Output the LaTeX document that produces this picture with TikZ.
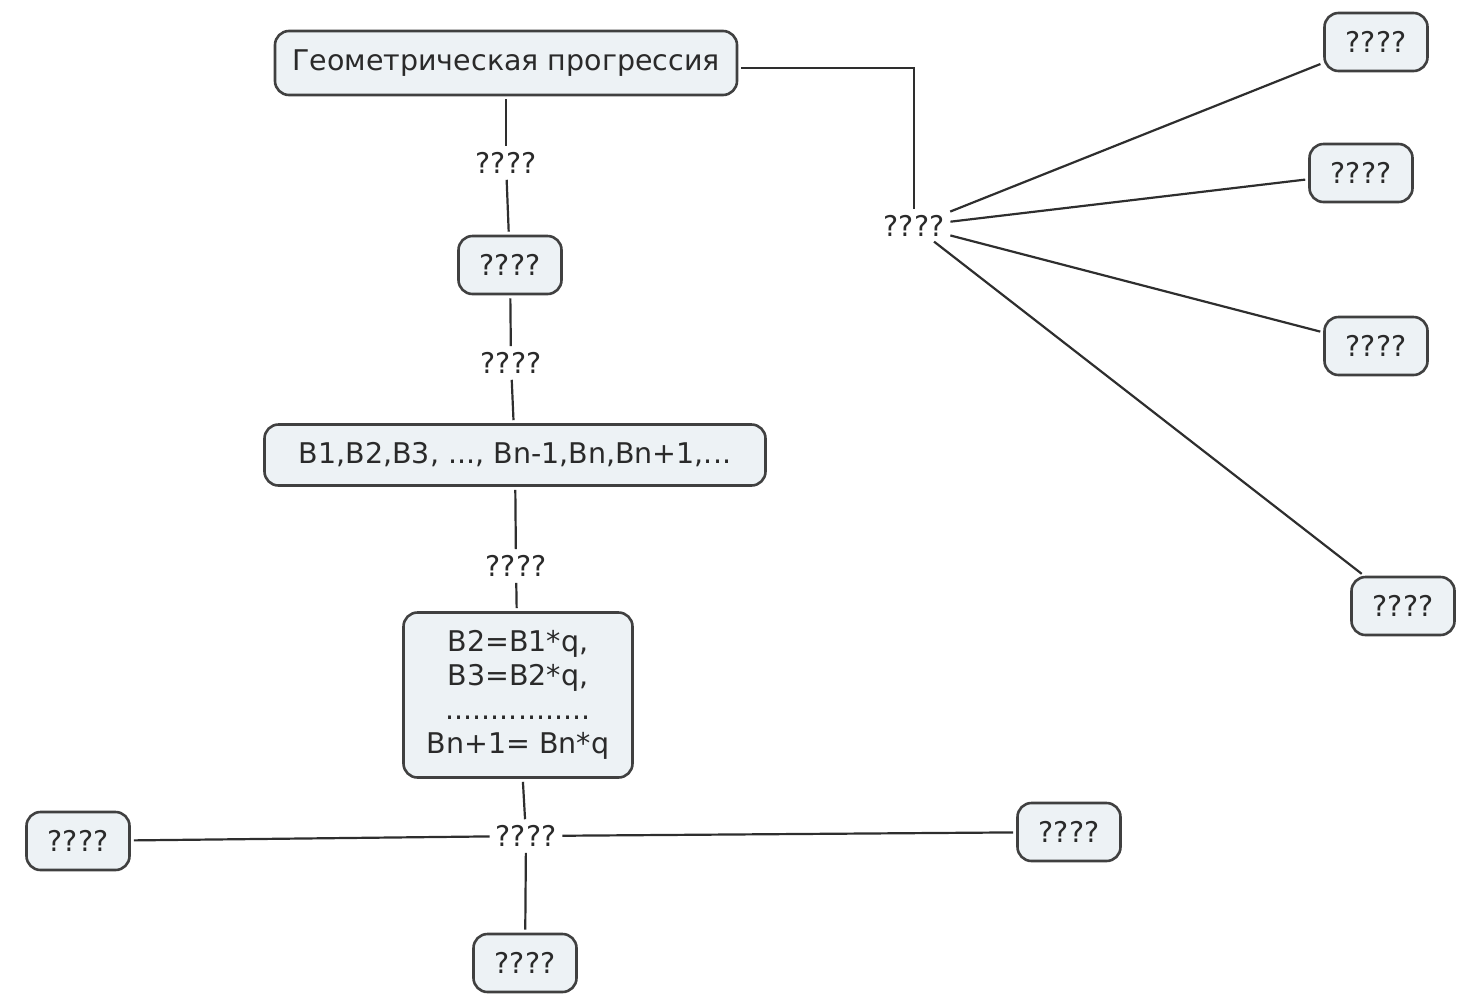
\documentclass[tikz,border=0pt]{standalone}
\usepackage{fontspec}
\setmainfont{DejaVu Sans}
\begin{document}
\begin{tikzpicture}[x=1pt,y=-1pt,
  every node/.style={font=\fontsize{28.5}{34}\selectfont, text=txt},
  cbox/.style={draw=bord, line width=2.6pt, fill=boxfill, rounded corners=14pt, align=center, inner sep=2pt},
  small/.style={cbox, minimum width=103pt, minimum height=58pt},
  lab/.style={inner sep=3pt},
  conn/.style={draw=lin, line width=2.2pt, shorten <=3pt, shorten >=3pt}
]
\definecolor{boxfill}{HTML}{EDF2F5}
\definecolor{bord}{HTML}{404040}
\definecolor{lin}{HTML}{2E2E2E}
\definecolor{txt}{HTML}{2A2A2A}
\useasboundingbox (0,0) rectangle (1461,994);
% concepts
\node[cbox, minimum width=462pt, minimum height=64pt] (top) at (506,63) {Геометрическая прогрессия};
\node[small] (c1) at (510,265) {????};
\node[cbox, minimum width=501pt, minimum height=61pt] (seq) at (515,455) {B1,B2,B3, ..., Bn-1,Bn,Bn+1,...};
\node[cbox, minimum width=229pt, minimum height=165pt] (form) at (518,695) {B2=B1*q,\\ B3=B2*q,\\ ................\\ Bn+1= Bn*q};
\node[small] (bl) at (78,841) {????};
\node[small] (br) at (1069,832) {????};
\node[small] (bb) at (525,963) {????};
\node[small] (r1) at (1376,42) {????};
\node[small] (r2) at (1361,173) {????};
\node[small] (r3) at (1376,346) {????};
\node[small] (r4) at (1403,606) {????};
% linking phrases
\node[lab] (l1) at (506,163) {????};
\node[lab] (l2) at (511,363) {????};
\node[lab] (l3) at (516,566) {????};
\node[lab] (l4) at (526,836) {????};
\node[lab] (l5) at (914,226) {????};
% connectors
\draw[conn] (top) -- (l1);
\draw[conn] (l1) -- (c1);
\draw[conn] (c1) -- (l2);
\draw[conn] (l2) -- (seq);
\draw[conn] (seq) -- (l3);
\draw[conn] (l3) -- (form);
\draw[conn] (form) -- (l4);
\draw[conn] (l4) -- (bl);
\draw[conn] (l4) -- (br);
\draw[conn] (l4) -- (bb);
\draw[conn] ([yshift=-5pt]top.east) -| (l5);
\draw[conn] (l5) -- (r1);
\draw[conn] (l5) -- (r2);
\draw[conn] (l5) -- (r3);
\draw[conn] (l5) -- (r4);
\end{tikzpicture}
\end{document}
